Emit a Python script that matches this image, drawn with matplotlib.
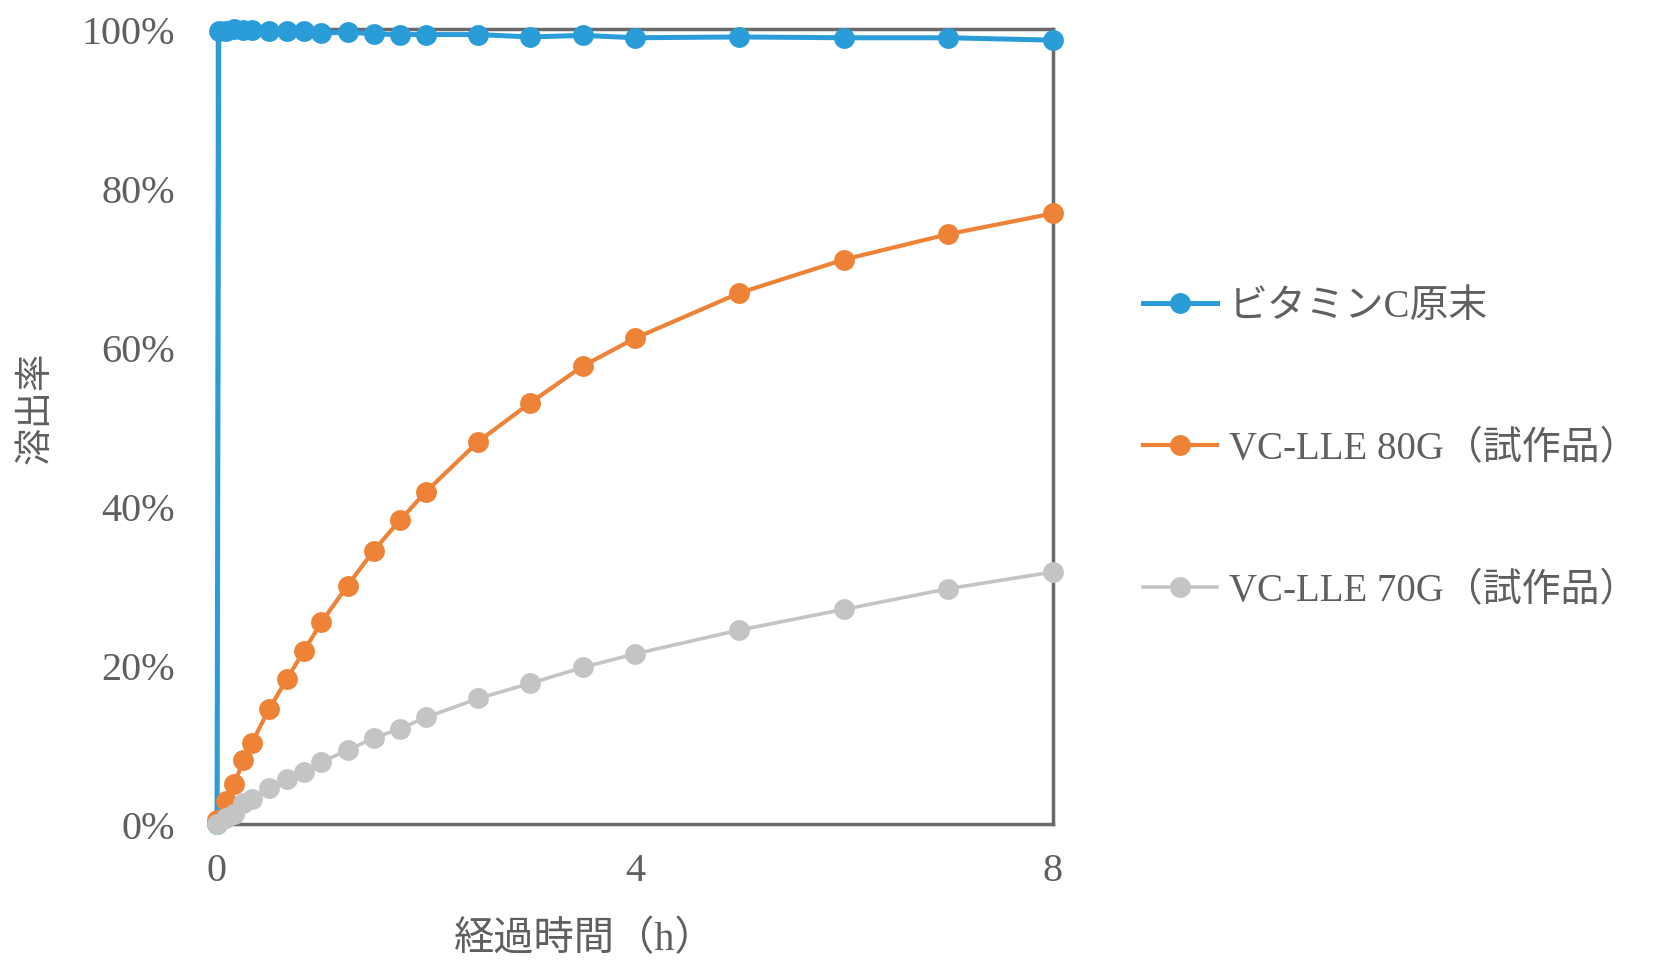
import matplotlib
matplotlib.use("Agg")
import matplotlib.pyplot as plt

# elapsed time (h): 0, 5, 10, 15, 20, 30, 40, 50, 60, 75, 90, 105, 120, 150 ... 480 min
hours = [0, 0.083, 0.167, 0.25, 0.333, 0.5, 0.667, 0.833, 1.0, 1.25, 1.5,
         1.75, 2.0, 2.5, 3.0, 3.5, 4.0, 5.0, 6.0, 7.0, 8.0]
# raw powder was also sampled at 1 min
vc_hours = [0, 0.017, 0.083, 0.167, 0.25, 0.333, 0.5, 0.667, 0.833, 1.0, 1.25,
            1.5, 1.75, 2.0, 2.5, 3.0, 3.5, 4.0, 5.0, 6.0, 7.0, 8.0]

# dissolution rate (%)
vc_raw = [0, 99.7, 99.8, 100.0, 99.9, 99.9, 99.8, 99.7, 99.7, 99.5, 99.6,
          99.4, 99.3, 99.3, 99.3, 99.0, 99.2, 98.9, 99.0, 98.9, 98.9, 98.6]
lle_80g = [0.5, 2.9, 5.0, 8.0, 10.2, 14.5, 18.2, 21.8, 25.4, 30.0, 34.4,
           38.2, 41.8, 48.1, 53.0, 57.6, 61.1, 66.8, 71.0, 74.2, 76.8]
lle_70g = [0, 0.7, 1.3, 2.7, 3.2, 4.5, 5.6, 6.6, 7.8, 9.3, 10.8,
           12.0, 13.4, 15.8, 17.7, 19.7, 21.4, 24.4, 27.0, 29.6, 31.7]

labels = ["ビタミンC原末", "VC-LLE 80G（試作品）", "VC-LLE 70G（試作品）"]
colors = ["#2a9dd8", "#ee8236", "#c4c4c4"]

y_ticks = [0, 20, 40, 60, 80, 100]
x_ticks = [0, 4, 8]

FONTS = ["Liberation Serif", "Noto Sans CJK JP", "DejaVu Sans"]
TEXT = "#5f5f5f"
plt.rcParams["font.family"] = FONTS

fig = plt.figure(figsize=(16.59, 9.62), dpi=100)
ax = fig.add_axes([0.1308, 0.1424, 0.5039, 0.8264])

series = [(vc_hours, vc_raw), (hours, lle_80g), (hours, lle_70g)]
widths = [3.6, 3.0, 2.6]
for i, ((xs, vals), lab, col, lw) in enumerate(zip(series, labels, colors, widths)):
    ax.plot(xs, vals, "-o", color=col, lw=lw, markersize=15,
            markeredgewidth=0, label=lab, zorder=3 + i, clip_on=False)

ax.set_xlim(0, 8)
ax.set_ylim(0, 100)
ax.set_xticks(x_ticks)
ax.set_yticks(y_ticks)
ax.set_yticklabels([f"{v}%" for v in y_ticks])
ax.tick_params(length=0, labelsize=29, colors=TEXT)
ax.tick_params(axis="x", pad=20)
ax.tick_params(axis="y", pad=30)

for s in ax.spines.values():
    s.set_color("#6a6a6a")
    s.set_linewidth(2.5)
    s.set_zorder(1)

ax.set_xlabel("経過時間（h）", fontsize=29, color=TEXT)
ax.xaxis.set_label_coords(0.44, -0.145)
ax.xaxis.label.set_verticalalignment("center")
ax.set_ylabel("溶出率", fontsize=27, color=TEXT)
ax.yaxis.set_label_coords(-0.2165, 0.525)
ax.yaxis.label.set_verticalalignment("center")

fig.legend(loc="center left", bbox_to_anchor=(1143 / 1659, 1 - 450 / 962),
           frameon=False, fontsize=28, labelcolor=TEXT, borderpad=0,
           borderaxespad=0, handlelength=1.9, handletextpad=0.3,
           labelspacing=2.7, markerscale=1.0)

fig.savefig("out.png", dpi=100)
